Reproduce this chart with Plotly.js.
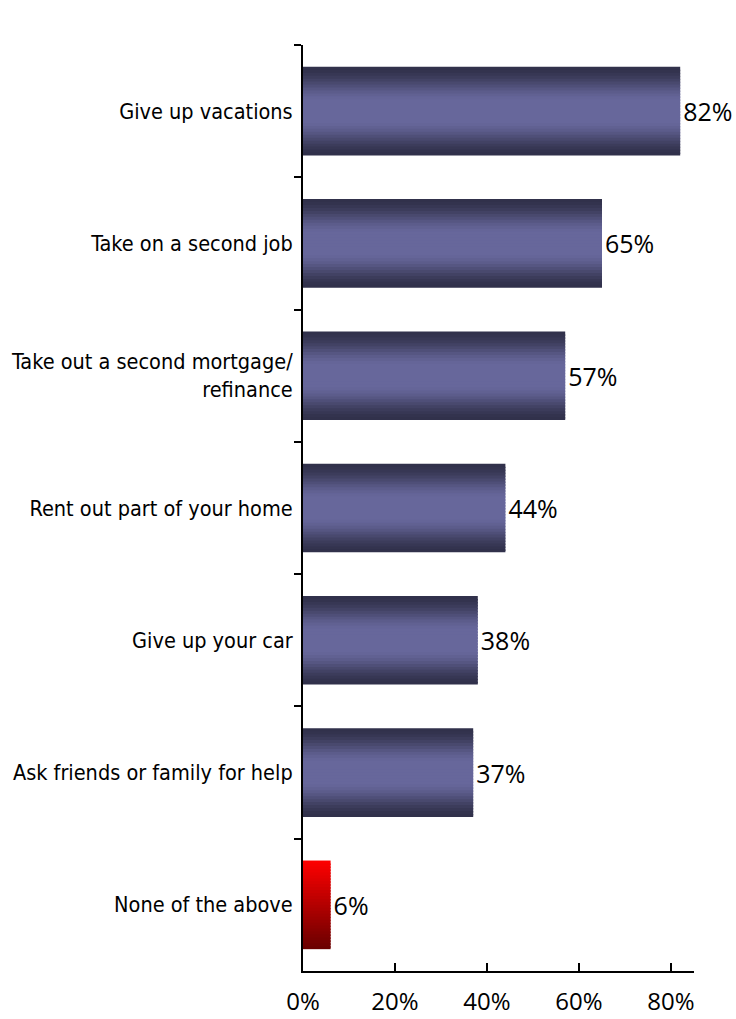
<!DOCTYPE html>
<html>
<head>
<meta charset="utf-8">
<script src="https://cdn.plot.ly/plotly-3.0.1.min.js"></script>
<style>html,body{margin:0;padding:0;background:#fff;}</style>
</head>
<body>
<div id="chart" style="width:736px;height:1019px;"></div>
<script>
// ---- data ----
const categories = [
  "Give up vacations",
  "Take on a second job",
  "Take out a second mortgage/<br>refinance",
  "Rent out part of your home",
  "Give up your car",
  "Ask friends or family for help",
  "None of the above"
];
const values = [82, 65, 57, 44, 38, 37, 6];
const valueLabels = ["82%", "65%", "57%", "44%", "38%", "37%", "6%"];
const highlightCategory = "None of the above";
const xTickVals = [0, 20, 40, 60, 80];
const xTickText = ["0%", "20%", "40%", "60%", "80%"];

// ---- style helpers (gradient imitation with thin overlaid slices) ----
const BAR_W = 0.67;
const N = 30;
function mix(a, b, f) {
  return a.map((v, k) => Math.round(v + (b[k] - v) * f));
}
function rgb(c) { return "rgb(" + c.join(",") + ")"; }
const LIGHT = [103, 103, 155], DARK = [49, 49, 75];
function purpleAt(t) {
  const d = Math.abs(t - 0.5) * 2;
  let f = (d - 0.2) / 0.8;
  f = Math.max(0, Math.min(1, f));
  f = f * f * (3 - 2 * f);
  return rgb(mix(LIGHT, DARK, f));
}
const RED_TOP = [255, 0, 0], RED_BOT = [104, 0, 0];
function redAt(t) { return rgb(mix(RED_TOP, RED_BOT, t)); }

const traces = [];
for (let i = 0; i < N; i++) {
  const t = (i + 0.5) / N;
  const last = i === N - 1;
  traces.push({
    type: "bar",
    orientation: "h",
    x: values,
    y: categories,
    width: BAR_W / N + (last ? 0 : 0.012),
    offset: -BAR_W / 2 + i * BAR_W / N,
    marker: {
      color: categories.map(c => c === highlightCategory ? redAt(t) : purpleAt(t)),
      line: {width: 0}
    },
    hoverinfo: "skip",
    showlegend: false
  });
}
traces.push({
  type: "bar",
  orientation: "h",
  x: values,
  y: categories,
  width: BAR_W,
  marker: {color: "rgba(0,0,0,0)", line: {width: 0}},
  text: valueLabels,
  textposition: "outside",
  textfont: {family: "Open Sans, Lato, sans-serif", size: 25, color: "#000"},
  cliponaxis: false,
  showlegend: false
});

const layout = {
  width: 736,
  height: 1019,
  margin: {l: 303, r: 42, t: 45, b: 48},
  paper_bgcolor: "#fff",
  plot_bgcolor: "#fff",
  barmode: "overlay",
  showlegend: false,
  xaxis: {
    range: [0, 85],
    tickvals: xTickVals,
    ticktext: xTickText,
    ticks: "inside",
    ticklen: 8,
    tickwidth: 2,
    tickcolor: "#000",
    showline: true,
    linewidth: 2,
    linecolor: "#000",
    showgrid: false,
    zeroline: false,
    ticklabelstandoff: 8,
    tickfont: {family: "Open Sans, Lato, sans-serif", size: 24, color: "#000"}
  },
  yaxis: {
    type: "category",
    range: [6.5, -0.5],
    ticks: "outside",
    tickson: "boundaries",
    ticklen: 7,
    tickwidth: 2,
    tickcolor: "#000",
    showline: true,
    linewidth: 2,
    linecolor: "#000",
    showgrid: false,
    zeroline: false,
    ticklabelstandoff: 4,
    tickfont: {family: "DejaVu Sans Condensed, sans-serif", size: 21.5, color: "#000"}
  }
};

Plotly.newPlot("chart", traces, layout, {displayModeBar: false, staticPlot: true});
</script>
</body>
</html>
